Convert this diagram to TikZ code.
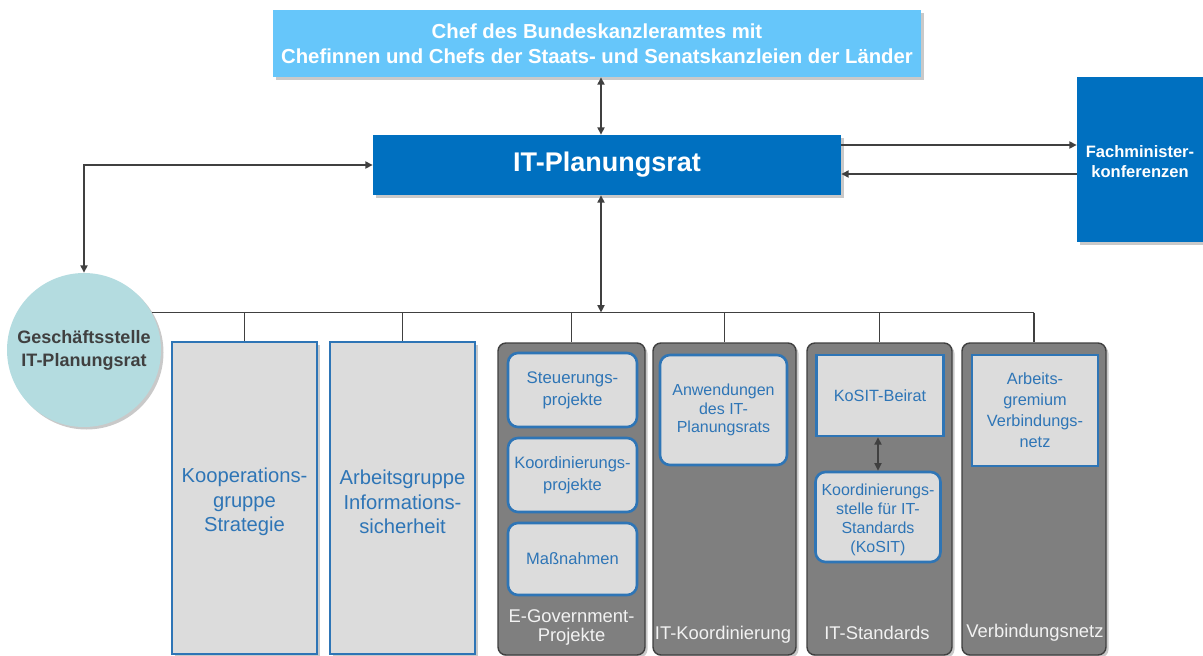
\documentclass[tikz,border=0pt]{standalone}
\usepackage{fontspec}
\setmainfont{Liberation Sans}
\usetikzlibrary{shadows,arrows.meta,calc}
\definecolor{skyb}{HTML}{66C6FA}
\definecolor{itblue}{HTML}{0070C0}
\definecolor{circfill}{HTML}{B4DCE0}
\definecolor{lineg}{HTML}{404040}
\definecolor{boxblue}{HTML}{2E75B6}
\definecolor{lgray}{HTML}{DCDCDC}
\definecolor{panelg}{HTML}{7F7F7F}
\definecolor{labelw}{HTML}{F2F2F2}
\begin{document}
\begin{tikzpicture}[x=1pt,y=-1pt,
  >={Triangle[length=7.5pt,width=7pt]},
  conn/.style={draw=lineg,line width=1.7pt},
  shd/.style={drop shadow={shadow xshift=2.5pt,shadow yshift=-2.5pt,opacity=0.3,fill=black!70}},
  topbox/.style={fill=skyb,text=white,font=\bfseries\fontsize{20.3}{25}\selectfont,align=center,inner sep=2pt,shd},
  itbox/.style={fill=itblue,text=white,font=\bfseries,align=center,inner sep=2pt,shd},
  grpbox/.style={fill=lgray,draw=boxblue,line width=1.8pt,minimum width=145pt,minimum height=312pt,shd},
  grptext/.style={text=boxblue,align=center,inner sep=0pt,font=\fontsize{20.2}{24.5}\selectfont},
  panel/.style={fill=panelg,draw=lineg,line width=1.4pt,rounded corners=8pt,minimum height=312pt,shd},
  inbox/.style={fill=lgray,draw=boxblue,line width=2.6pt,rounded corners=10pt,text=boxblue,align=center,inner sep=2pt},
  inrect/.style={fill=lgray,draw=boxblue,line width=2.4pt,text=boxblue,align=center,inner sep=2pt},
  plabel/.style={text=labelw,align=center,inner sep=0pt,font=\fontsize{18.4}{19.5}\selectfont}
]
\useasboundingbox (0,0) rectangle (1203,656);

% top level
\node[topbox,minimum width=648pt,minimum height=67pt] (top) at (597,43.5)
  {Chef des Bundeskanzleramtes mit\\Chefinnen und Chefs der Staats- und Senatskanzleien der Länder};
\node[itbox,minimum width=468pt,minimum height=60pt,font=\bfseries\fontsize{27}{30}\selectfont] (it) at (607,165) {IT-Planungsrat};
\node[itbox,minimum width=126pt,minimum height=165pt] (fach) at (1140,159.5) {};
\node[text=white,align=center,inner sep=0pt,font=\bfseries\fontsize{16.5}{20}\selectfont] (fachtext) at ($(fach.center)+(0,2)$) {Fachminister-\\konferenzen};
\node[circle,fill=circfill,minimum size=154pt,inner sep=0pt,text=lineg,align=center,
  font=\bfseries\fontsize{18}{23}\selectfont,shd] (circ) at (84,350) {Geschäftsstelle\\IT-Planungsrat};

% groups
\node[grpbox] (koop) at (244.5,498) {};
\node[grptext] (kooptext) at ($(koop.center)+(0,4)$) {Kooperations-\\gruppe\\Strategie};
\node[grpbox] (agis) at (402.5,498) {};
\node[grptext] (agistext) at ($(agis.center)+(0,4)$) {Arbeitsgruppe\\Informations-\\sicherheit};

% panels
\node[panel,minimum width=147pt] (egov) at (571.5,499) {};
\node[panel,minimum width=143pt] (itk) at (724.5,499) {};
\node[panel,minimum width=145pt] (itstd) at (879.5,499) {};
\node[panel,minimum width=144pt] (vnetz) at (1034,499) {};

% panel contents
\node[inbox,minimum width=129pt,minimum height=74pt,font=\fontsize{16.8}{22}\selectfont] (steu) at (572.5,390) {Steuerungs-\\projekte};
\node[inbox,minimum width=129pt,minimum height=74pt,font=\fontsize{16.5}{22}\selectfont] (kopr) at (572.5,475) {Koordinierungs-\\projekte};
\node[inbox,minimum width=129pt,minimum height=72pt,font=\fontsize{16.5}{22}\selectfont] (mass) at (572.5,559) {Maßnahmen};
\node[plabel] (egovl) at (571.5,627.5) {E-Government-\\Projekte};

\node[inbox,minimum width=127pt,minimum height=110pt,font=\fontsize{16}{18.5}\selectfont] (anw) at (723.5,410) {Anwendungen\\des IT-\\Planungsrats};
\node[plabel] (itkl) at (723,635) {IT-Koordinierung};

\node[inrect,minimum width=127pt,minimum height=81pt,font=\fontsize{16.3}{20}\selectfont] (beirat) at (880,395.5) {KoSIT-Beirat};
\node[inbox,minimum width=125pt,minimum height=90pt] (kosit) at (878,517) {};
\node[text=boxblue,align=center,inner sep=0pt,font=\fontsize{16}{19}\selectfont] (kosittext) at ($(kosit.center)+(0,3)$) {Koordinierungs-\\stelle für IT-\\Standards\\(KoSIT)};
\node[plabel] (itstdl) at (877,633) {IT-Standards};

\node[inrect,minimum width=126pt,minimum height=111pt,font=\fontsize{16.3}{21}\selectfont] (agvn) at (1035,410.5) {Arbeits-\\gremium\\Verbindungs-\\netz};
\node[plabel] (vnetzl) at (1035,633) {Verbindungsnetz};

% connectors
\coordinate (vx) at (601,0);
\coordinate (a1) at (0,145);
\coordinate (a2) at (0,174);
\coordinate (kx) at (878,0);
\draw[conn,<->] (vx |- top.south) -- (vx |- it.north);
\draw[conn,<->] (vx |- it.south) -- (vx |- circ.29);
\draw[conn,<->] (it.west) -| (circ.north);
\draw[conn,->] (it.east |- a1) -- (fach.west |- a1);
\draw[conn,->] (fach.west |- a2) -- (it.east |- a2);
\draw[conn] (circ.29) -- (vnetz.north |- circ.29);
\foreach \n in {koop,agis,egov,itk,itstd,vnetz}
  \draw[conn] (\n.north |- circ.29) -- (\n.north);
\draw[conn,<->] (kx |- beirat.south) -- (kx |- kosit.north);
\end{tikzpicture}
\end{document}
